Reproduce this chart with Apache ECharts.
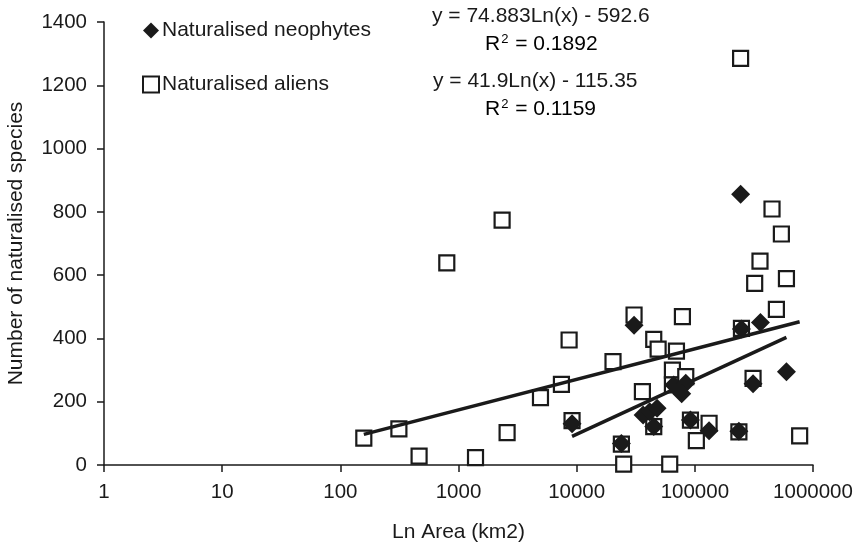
<!DOCTYPE html>
<html>
<head>
<meta charset="utf-8">
<script src="https://cdn.jsdelivr.net/npm/echarts@6/dist/echarts.min.js"></script>
<style>html,body{margin:0;padding:0;background:#fff}#c{width:859px;height:543px}</style>
</head>
<body>
<div id="c"></div>
<script>
// Naturalised aliens: [area km2, species]
var aliens = [
  [158, 85], [313, 114], [464, 28], [796, 639], [1393, 23], [2339, 774], [2578, 102],
  [4940, 213], [7430, 255], [8630, 395], [9140, 140], [20300, 327], [23900, 66],
  [25000, 3], [30600, 474], [36000, 232], [44900, 397], [44900, 121], [48900, 366],
  [61300, 3], [64600, 300], [64600, 253], [69900, 360], [78500, 469], [83800, 279],
  [91800, 142], [103000, 77], [132000, 132], [236000, 105], [244000, 1285],
  [248000, 432], [311000, 274], [321000, 574], [356000, 644], [450000, 809],
  [490000, 492], [540000, 730], [596000, 589], [771000, 92]
];
// Naturalised neophytes: [area km2, species]
var neophytes = [
  [9140, 130], [23900, 68], [30600, 442], [36500, 158], [41500, 168], [47900, 179],
  [44900, 122], [66300, 253], [83800, 258], [77400, 225], [91800, 142], [132000, 108],
  [236000, 107], [244000, 856], [248000, 430], [359000, 450], [311000, 257], [596000, 295]
];
// Fitted trends y = a*ln(x) + b (from the chart's equations), drawn over each data range
var neoFit = {a: 74.883, b: -592.6, xFrom: 9140, xTo: 596000};
var aliFit = {a: 41.9, b: -115.35, xFrom: 158, xTo: 771000};
var xTickLabels = ['1', '10', '100', '1000', '10000', '100000', '1000000'];

function fitLine(f) {
  return [[f.xFrom, f.a * Math.log(f.xFrom) + f.b], [f.xTo, f.a * Math.log(f.xTo) + f.b]];
}

var FONT = 'Liberation Sans, Arial, sans-serif';
var INK = '#1a1a1a';
var FS = 21;
var TFS = 20.5;
var supRich = {
  n: {fontFamily: FONT, fontSize: FS, color: INK},
  s: {fontFamily: FONT, fontSize: 13, color: INK, verticalAlign: 'top', padding: [0, 1, 9, 1]}
};
var chart = echarts.init(document.getElementById('c'), null, {renderer: 'canvas'});
chart.setOption({
  animation: false,
  backgroundColor: '#fff',
  textStyle: {fontFamily: FONT, color: INK},
  grid: {left: 104, right: 46, top: 22, bottom: 78, containLabel: false, outerBoundsMode: 'none'},
  legend: {
    orient: 'vertical', left: 137, top: 15, itemGap: 33, itemWidth: 16, itemHeight: 16,
    textStyle: {fontFamily: FONT, fontSize: FS, color: INK, padding: [0, 0, 0, -2]},
    data: ['Naturalised neophytes', 'Naturalised aliens']
  },
  xAxis: {
    type: 'log', logBase: 10, min: 1, max: 1000000,
    name: 'Ln Area (km2)', nameLocation: 'middle', nameGap: 57,
    nameTextStyle: {fontFamily: FONT, fontSize: FS, color: INK},
    axisLine: {lineStyle: {color: INK, width: 1.5}},
    axisTick: {show: true, inside: false, length: 7, lineStyle: {color: INK, width: 1.5}},
    axisLabel: {fontFamily: FONT, fontSize: TFS, color: INK, margin: 17,
      formatter: function (v) { var i = Math.round(Math.log10(v)); return xTickLabels[i] || ''; }},
    splitLine: {show: false}, minorTick: {show: false}
  },
  yAxis: {
    type: 'value', min: 0, max: 1400, interval: 200,
    name: 'Number of naturalised species', nameLocation: 'middle', nameGap: 77,
    nameTextStyle: {fontFamily: FONT, fontSize: FS, color: INK},
    axisLine: {show: true, lineStyle: {color: INK, width: 1.5}},
    axisTick: {show: true, inside: false, length: 7, lineStyle: {color: INK, width: 1.5}},
    axisLabel: {fontFamily: FONT, fontSize: TFS, color: INK, margin: 17,
      formatter: function (v) { return String(v); }},
    splitLine: {show: false}
  },
  graphic: [
    {type: 'text', left: 432, top: 6, style: {text: 'y = 74.883Ln(x) - 592.6', font: FS + 'px ' + FONT, fill: INK}},
    {type: 'text', left: 485, top: 33, style: {rich: supRich, text: '{n|R}{s|2}{n| = 0.1892}'}},
    {type: 'text', left: 433, top: 71, style: {text: 'y = 41.9Ln(x) - 115.35', font: FS + 'px ' + FONT, fill: INK}},
    {type: 'text', left: 485, top: 98, style: {rich: supRich, text: '{n|R}{s|2}{n| = 0.1159}'}}
  ],
  series: [
    {
      name: 'Naturalised aliens', type: 'scatter', data: aliens, symbol: 'rect', symbolSize: 15, z: 2,
      itemStyle: {color: '#fff', borderColor: INK, borderWidth: 2.2, opacity: 1}
    },
    {
      name: 'aliensFit', type: 'line', data: fitLine(aliFit), showSymbol: false, symbol: 'none', z: 3,
      lineStyle: {color: INK, width: 3.5}, silent: true
    },
    {
      name: 'neoFit', type: 'line', data: fitLine(neoFit), showSymbol: false, symbol: 'none', z: 3,
      lineStyle: {color: INK, width: 3.5}, silent: true
    },
    {
      name: 'Naturalised neophytes', type: 'scatter', data: neophytes, symbol: 'diamond', symbolSize: 19, z: 4,
      itemStyle: {color: INK, opacity: 1}
    }
  ]
});
</script>
</body>
</html>
